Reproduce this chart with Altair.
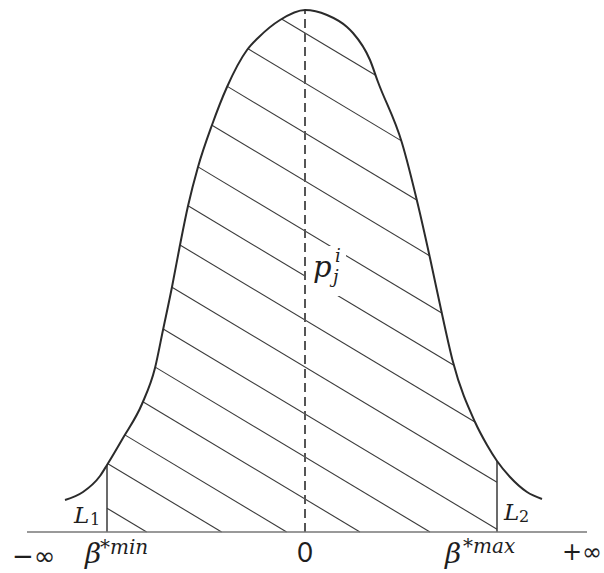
import numpy as np
import pandas as pd
import altair as alt

# Bell curve outline: horizontal offset from the centre line, height above the baseline
curve_x = [-240, -222, -205, -198, -182, -163, -150, -142, -133, -125, -117, -107,
           -93, -78, -58, -46, -25, 0, 22, 42, 48, 65, 73, 97, 113, 125, 137, 148,
           170, 182, 192, 205, 222, 237]
curve_y = [32, 40, 56, 67, 94, 128, 164, 202, 245, 287, 326, 365,
           407, 445, 482, 495, 512, 522, 517, 505, 499, 472, 450, 389, 327, 274, 218, 170,
           110, 87, 71, 55, 40, 33]

# Interval limits and the extent of the horizontal axis
beta_min = -198
beta_max = 192
axis_left = -278
axis_right = 282

# Hatch lines: height at which each one crosses the centre line, and their common slope
hatch_centre = [499, 449, 399, 351, 301, 256, 212, 165, 118, 75, 33, -11, -50, -95]
hatch_slope = 0.6

# Box kept clear behind the p label
label_box = {"x": 1, "x2": 41, "y": 236, "y2": 286}

X_DOMAIN = [-305, 299]
Y_DOMAIN = [-41, 532]


def xs(field="x"):
    return alt.X(f"{field}:Q", scale=alt.Scale(domain=X_DOMAIN, nice=False, zero=False), axis=None)


def ys(field="y"):
    return alt.Y(f"{field}:Q", scale=alt.Scale(domain=Y_DOMAIN, nice=False, zero=False), axis=None)


def clip_hatch(c):
    """Part of the line y = c - slope*x lying under the curve between the two limits."""
    grid = np.linspace(beta_min, beta_max, 6000)
    line = c - hatch_slope * grid
    top = np.interp(grid, curve_x, curve_y)
    inside = (line >= 0) & (line <= top)
    if not inside.any():
        return None
    idx = np.where(inside)[0]
    x0, x1 = grid[idx[0]], grid[idx[-1]]
    return {"x": x0, "y": c - hatch_slope * x0, "x2": x1, "y2": c - hatch_slope * x1}


hatch = pd.DataFrame([s for s in (clip_hatch(c) for c in hatch_centre) if s is not None])
curve = pd.DataFrame({"x": curve_x, "y": curve_y})
peak = max(curve_y)
bounds = pd.DataFrame({
    "x": [beta_min, beta_max],
    "y": [0, 0],
    "y2": [float(np.interp(beta_min, curve_x, curve_y)),
           float(np.interp(beta_max, curve_x, curve_y))],
})
baseline = pd.DataFrame({"x": [axis_left], "x2": [axis_right], "y": [0]})
centre = pd.DataFrame({"x": [0], "y": [0], "y2": [peak]})
box = pd.DataFrame([label_box])

hatch_layer = alt.Chart(hatch).mark_rule(color="#3a3a3a", strokeWidth=1.1).encode(
    x=xs(), y=ys(), x2="x2:Q", y2="y2:Q")
box_layer = alt.Chart(box).mark_rect(color="white").encode(
    x=xs(), x2="x2:Q", y=ys(), y2="y2:Q")
centre_layer = alt.Chart(centre).mark_rule(
    color="#555555", strokeWidth=2, strokeDash=[9, 5]).encode(x=xs(), y=ys(), y2="y2:Q")
bounds_layer = alt.Chart(bounds).mark_rule(color="#3a3a3a", strokeWidth=1.5).encode(
    x=xs(), y=ys(), y2="y2:Q")
baseline_layer = alt.Chart(baseline).mark_rule(color="#777777", strokeWidth=1.6).encode(
    x=xs(), x2="x2:Q", y=ys())
curve_layer = alt.Chart(curve).mark_line(
    color="#2b2b2b", strokeWidth=2, interpolate="monotone").encode(x=xs(), y=ys())

# Labels: text, x, y, font size
math_italic = pd.DataFrame([
    ("β", beta_min - 22, -31, 28),
    ("*min", beta_min - 7, -22, 20),
    ("β", beta_max - 52, -31, 28),
    ("*max", beta_max - 34, -21, 20),
    ("L", -231, 9, 23),
    ("L", 199, 12, 23),
    ("p", 8, 255, 29),
    ("i", 30, 270, 18),
    ("j", 28, 249, 18),
], columns=["text", "x", "y", "size"])
math_upright = pd.DataFrame([
    ("1", -215, 7, 16),
    ("2", 214, 10, 16),
], columns=["text", "x", "y", "size"])
infinity = pd.DataFrame([
    ("−∞", axis_left - 15, -33, 26),
    ("+∞", axis_right - 25, -28, 24),
], columns=["text", "x", "y", "size"])
zero = pd.DataFrame([("0", 0, -30, 26)], columns=["text", "x", "y", "size"])


def text_layer(df, font, style="normal", align="left"):
    return alt.Chart(df).mark_text(
        font=font, fontStyle=style, align=align, baseline="alphabetic", color="#1e1e1e"
    ).encode(x=xs(), y=ys(), text="text:N", size=alt.Size("size:Q", scale=None, legend=None))


chart = alt.layer(
    hatch_layer,
    box_layer,
    centre_layer,
    bounds_layer,
    baseline_layer,
    curve_layer,
    text_layer(math_italic, "DejaVu Serif", "italic"),
    text_layer(math_upright, "DejaVu Serif"),
    text_layer(infinity, "DejaVu Sans"),
    text_layer(zero, "Lato", align="center"),
).properties(
    width=604, height=573, autosize=alt.AutoSizeParams(type="none"), padding=0,
    background="white",
).configure_view(stroke=None)

chart.save("out.html", embed_options={"renderer": "svg", "actions": False})
